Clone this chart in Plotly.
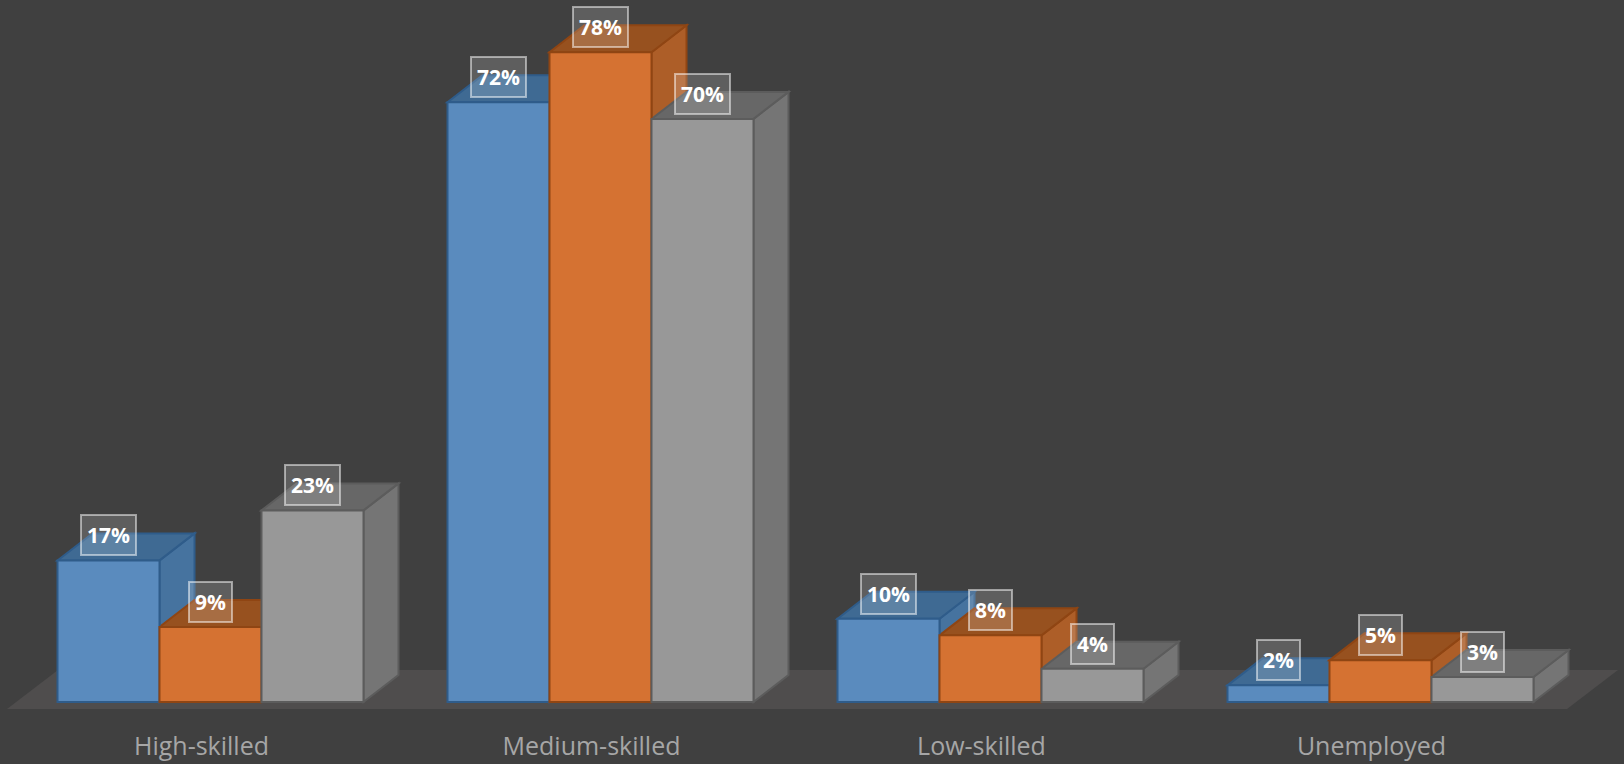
import plotly.graph_objects as go

# ---- data ----
categories = ["High-skilled", "Medium-skilled", "Low-skilled", "Unemployed"]
series_names = ["Series 1", "Series 2", "Series 3"]
series_values = [
    [17, 72, 10, 2],   # blue
    [9, 78, 8, 5],     # orange
    [23, 70, 4, 3],    # gray
]

# ---- styles ----
front_cols = ["#5A8BBE", "#D57232", "#989898"]
top_cols = ["#3F6A93", "#97511F", "#676767"]
side_cols = ["#46739F", "#AD5E28", "#757575"]
edge_cols = ["#2F5C8A", "#8F4513", "#5C5C5C"]
BG = "#404040"
FLOOR = "#4F4D4D"

W, H = 1624, 764
PX_CAT = 390.0        # pixels per category
PX_PCT = 8.33         # pixels per percent
ZERO_PX = 702.0       # pixel row of value 0
CAT0_PX = 210.5       # pixel column of first category centre
PLOT_BOTTOM = 712
B = H - PLOT_BOTTOM

bw = 102.0 / PX_CAT
dx = 35.0 / PX_CAT
dy = 27.0 / PX_PCT

x_range = [-CAT0_PX / PX_CAT, (W - CAT0_PX) / PX_CAT]
y_range = [-(PLOT_BOTTOM - ZERO_PX) / PX_PCT, ZERO_PX / PX_PCT]

fig = go.Figure()
shapes = []

# floor
f_y0 = -7.0 / PX_PCT
f_y1 = f_y0 + 39.0 / PX_PCT
f_x0 = (7 - CAT0_PX) / PX_CAT
f_x1 = (1567 - CAT0_PX) / PX_CAT
f_dx = 51.0 / PX_CAT
shapes.append(dict(
    type="path", xref="x", yref="y", layer="below", line=dict(width=0),
    fillcolor=FLOOR,
    path=f"M {f_x0} {f_y0} L {f_x1} {f_y0} L {f_x1 + f_dx} {f_y1} L {f_x0 + f_dx} {f_y1} Z",
))

n_series = len(series_values)
offsets = [-n_series * bw / 2 + k * bw for k in range(n_series)]

# side + top faces
for i in range(len(categories)):
    for k in range(n_series):
        v = series_values[k][i]
        xl = i + offsets[k]
        xr = xl + bw
        shapes.append(dict(
            type="path", xref="x", yref="y", layer="below",
            line=dict(color=edge_cols[k], width=2), fillcolor=side_cols[k],
            path=f"M {xr} 0 L {xr} {v} L {xr + dx} {v + dy} L {xr + dx} {dy} Z",
        ))
        shapes.append(dict(
            type="path", xref="x", yref="y", layer="below",
            line=dict(color=edge_cols[k], width=2), fillcolor=top_cols[k],
            path=f"M {xl} {v} L {xr} {v} L {xr + dx} {v + dy} L {xl + dx} {v + dy} Z",
        ))

annotations = []
for k in range(n_series):
    fig.add_trace(go.Bar(
        x=list(range(len(categories))), y=series_values[k], name=series_names[k],
        width=bw, offset=offsets[k],
        marker=dict(color=front_cols[k], line=dict(color=edge_cols[k], width=2)),
        hoverinfo="skip",
    ))
    for i, v in enumerate(series_values[k]):
        annotations.append(dict(
            x=i + offsets[k] + bw / 2, y=v, xref="x", yref="y",
            text=f"{v}%", showarrow=False, yshift=25,
            font=dict(family="Open Sans", size=21, color="white", weight="bold"),
            bgcolor="rgba(255,255,255,0.16)", bordercolor="rgba(255,255,255,0.5)",
            borderwidth=2, borderpad=5,
        ))

fig.update_layout(
    width=W, height=H,
    paper_bgcolor=BG, plot_bgcolor=BG,
    margin=dict(l=0, r=0, t=0, b=B, pad=0),
    showlegend=False, barmode="overlay",
    shapes=shapes, annotations=annotations,
    xaxis=dict(range=x_range, tickvals=list(range(len(categories))), ticktext=categories,
               showgrid=False, zeroline=False, showline=False, ticks="",
               tickfont=dict(family="Open Sans", size=25, color="#A6A6A6"),
               ticklabelshift=-9, ticklabelstandoff=17, automargin=False, fixedrange=True),
    yaxis=dict(range=y_range, visible=False, showgrid=False, zeroline=False, fixedrange=True),
)

fig.write_html("out.html")
